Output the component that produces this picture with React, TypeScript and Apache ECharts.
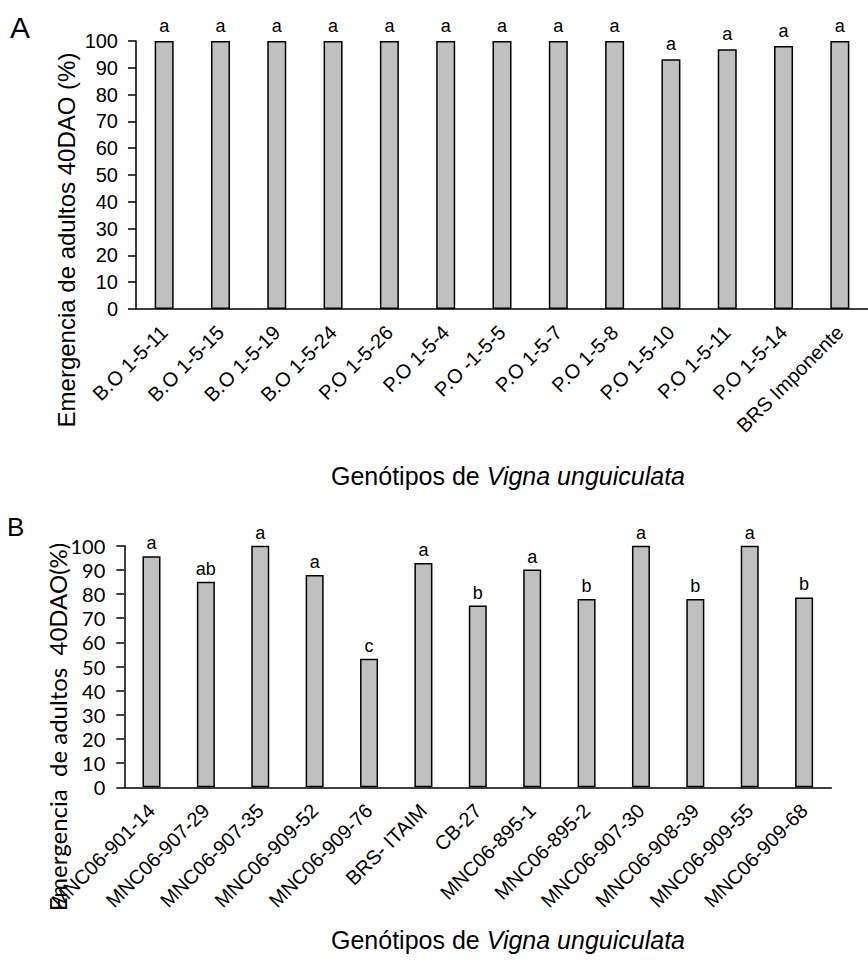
import React, { useEffect, useRef } from "react";
import * as echarts from "echarts";

const categoriesA = ["B.O 1-5-11", "B.O 1-5-15", "B.O 1-5-19", "B.O 1-5-24", "P.O 1-5-26", "P.O 1-5-4", "P.O -1-5-5", "P.O 1-5-7", "P.O 1-5-8", "P.O 1-5-10", "P.O 1-5-11", "P.O 1-5-14", "BRS Imponente"];
const valuesA = [100, 100, 100, 100, 100, 100, 100, 100, 100, 93.2, 96.9, 98.1, 100];
const lettersA = ["a", "a", "a", "a", "a", "a", "a", "a", "a", "a", "a", "a", "a"];

const categoriesB = ["MNC06-901-14", "MNC06-907-29", "MNC06-907-35", "MNC06-909-52", "MNC06-909-76", "BRS- ITAIM", "CB-27", "MNC06-895-1", "MNC06-895-2", "MNC06-907-30", "MNC06-908-39", "MNC06-909-55", "MNC06-909-68"];
const valuesB = [95.6, 85.1, 100, 87.9, 53.2, 92.8, 75.2, 90.1, 77.9, 100, 77.9, 100, 78.6];
const lettersB = ["a", "ab", "a", "a", "c", "a", "b", "a", "b", "a", "b", "a", "b"];

const yTitleA = "Emergencia de adultos 40DAO (%)";
const yTitleB = "Emergencia  de adultos  40DAO(%)";
const xTitleNormal = "Genótipos de ";
const xTitleItalic = "Vigna unguiculata";

const ARIAL = "Liberation Sans";
const CALI = "Lato";

export default function App() {
  const ref = useRef<HTMLDivElement>(null);
  useEffect(() => {
    if (!ref.current) return;
    const chart = echarts.init(ref.current, undefined, { renderer: "svg" });
    const axisLine = { show: true, lineStyle: { color: "#000", width: 1.5 } };
    const barStyle = { color: "#c0c0c0", borderColor: "#000", borderWidth: 1.5 };
    const xTitle = (y: number) => ({
      type: "text",
      x: 508,
      y,
      style: {
        text: "{n|" + xTitleNormal + "}{i|" + xTitleItalic + "}",
        align: "center",
        verticalAlign: "middle",
        rich: {
          n: { fontFamily: ARIAL, fontSize: 25, fill: "#000" },
          i: { fontFamily: ARIAL, fontSize: 25, fontStyle: "italic", fill: "#000" },
        },
      },
    });
    const xLabel = { rotate: 45, interval: 0, margin: 20, padding: [25, 0, 0, 0], fontFamily: ARIAL, fontSize: 20, color: "#000" };
    chart.setOption({
      animation: false,
      backgroundColor: "#fff",
      grid: [
        { left: 136, top: 41, width: 742, height: 268 },
        { left: 124.3, top: 545.7, width: 707, height: 241.6 },
      ],
      xAxis: [
        { type: "category", gridIndex: 0, data: categoriesA, axisLine, axisTick: { show: false }, axisLabel: xLabel },
        { type: "category", gridIndex: 1, data: categoriesB, axisLine, axisTick: { show: false }, axisLabel: xLabel },
      ],
      yAxis: [
        {
          type: "value",
          gridIndex: 0,
          min: 0,
          max: 100,
          interval: 10,
          axisLine,
          axisTick: { show: true, inside: false, length: 8, lineStyle: { color: "#000", width: 1.5 } },
          splitLine: { show: false },
          axisLabel: { margin: 18, fontFamily: ARIAL, fontSize: 20, color: "#000" },
        },
        {
          type: "value",
          gridIndex: 1,
          min: 0,
          max: 100,
          interval: 10,
          axisLine,
          axisTick: { show: true, inside: false, length: 8, lineStyle: { color: "#000", width: 1.5 } },
          splitLine: { show: false },
          axisLabel: { margin: 19, fontFamily: CALI, fontSize: 20, color: "#000" },
        },
      ],
      series: [
        {
          type: "bar",
          xAxisIndex: 0,
          yAxisIndex: 0,
          data: valuesA,
          barWidth: 19,
          itemStyle: barStyle,
          label: { show: true, position: "top", distance: 6, fontFamily: ARIAL, fontSize: 18, color: "#000", formatter: (p: any) => lettersA[p.dataIndex] },
        },
        {
          type: "bar",
          xAxisIndex: 1,
          yAxisIndex: 1,
          data: valuesB,
          barWidth: 18,
          itemStyle: barStyle,
          label: { show: true, position: "top", distance: 4, fontFamily: ARIAL, fontSize: 18, color: "#000", formatter: (p: any) => lettersB[p.dataIndex] },
        },
      ],
      graphic: [
        { type: "text", x: 10, y: 12, style: { text: "A", fontFamily: ARIAL, fontSize: 30, fill: "#000" } },
        { type: "text", x: 7, y: 514, style: { text: "B", fontFamily: ARIAL, fontSize: 26, fill: "#000" } },
        { type: "text", x: 66, y: 240, rotation: Math.PI / 2, style: { text: yTitleA, align: "center", verticalAlign: "middle", fontFamily: ARIAL, fontSize: 24, fill: "#000" } },
        { type: "text", x: 57, y: 727, rotation: Math.PI / 2, style: { text: yTitleB, align: "center", verticalAlign: "middle", fontFamily: CALI, fontSize: 24, fill: "#000" } },
        xTitle(476),
        xTitle(940),
      ],
    });
    return () => chart.dispose();
  }, []);
  return <div ref={ref} style={{ position: "absolute", left: 0, top: 0, width: 868, height: 970 }} />;
}
